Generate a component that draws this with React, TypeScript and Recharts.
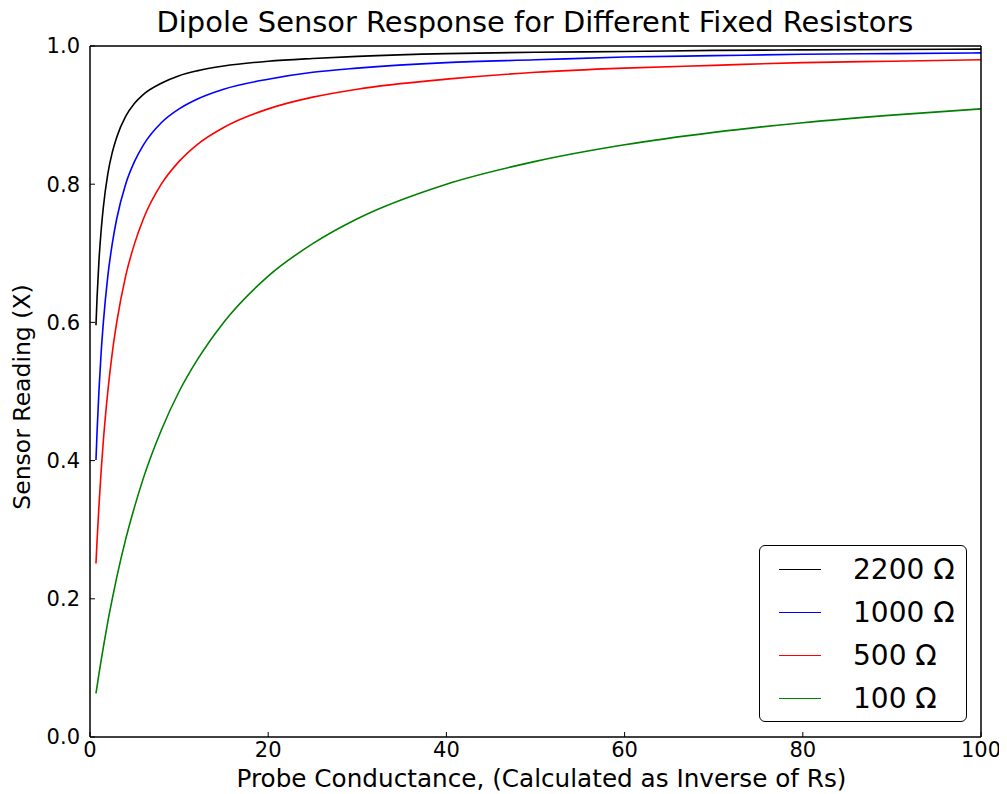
import React from 'react';
import { LineChart, Line, XAxis, YAxis, Legend } from 'recharts';

const conductance = [0.67, 0.8, 1, 1.25, 1.5, 2, 2.5, 3, 4, 5, 6, 8, 10, 12, 15, 20, 25, 30, 40, 50, 60, 70, 80, 90, 100];
const r2200 = [0.596, 0.638, 0.688, 0.733, 0.767, 0.815, 0.846, 0.868, 0.898, 0.917, 0.930, 0.946, 0.957, 0.964, 0.971, 0.978, 0.982, 0.985, 0.989, 0.991, 0.992, 0.9936, 0.9944, 0.995, 0.9955];
const r1000 = [0.401, 0.444, 0.5, 0.556, 0.6, 0.667, 0.714, 0.75, 0.8, 0.833, 0.857, 0.889, 0.909, 0.923, 0.9375, 0.952, 0.962, 0.968, 0.976, 0.980, 0.984, 0.986, 0.988, 0.989, 0.990];
const r500 = [0.251, 0.286, 0.333, 0.385, 0.429, 0.5, 0.556, 0.6, 0.667, 0.714, 0.75, 0.8, 0.833, 0.857, 0.882, 0.909, 0.926, 0.9375, 0.952, 0.962, 0.968, 0.972, 0.976, 0.978, 0.980];
const r100 = [0.063, 0.074, 0.091, 0.111, 0.130, 0.167, 0.2, 0.231, 0.286, 0.333, 0.375, 0.444, 0.5, 0.545, 0.6, 0.667, 0.714, 0.75, 0.8, 0.833, 0.857, 0.875, 0.889, 0.9, 0.909];

const seriesNames = ['2200 Ω', '1000 Ω', '500 Ω', '100 Ω'];
const seriesKeys = ['r2200', 'r1000', 'r500', 'r100'];
const seriesColors = ['#000000', '#0000ff', '#ff0000', '#008000'];
const xTicks = [0, 20, 40, 60, 80, 100];
const yTicks = [0, 0.2, 0.4, 0.6, 0.8, 1.0];

const titleText = 'Dipole Sensor Response for Different Fixed Resistors';
const xLabelText = 'Probe Conductance, (Calculated as Inverse of Rs)';
const yLabelText = 'Sensor Reading (X)';

const data = conductance.map((g, i) => ({
  g,
  r2200: r2200[i],
  r1000: r1000[i],
  r500: r500[i],
  r100: r100[i],
}));

const FONT = '"DejaVu Sans", sans-serif';

const renderYLabel = () => (
  <text x={22} y={397} transform="rotate(-90 22 397)" textAnchor="middle" dominantBaseline="central" fontFamily={FONT} fontSize={23.5} fill="#000">
    {yLabelText}
  </text>
);

const renderXLabel = () => (
  <text x={541.5} y={778} textAnchor="middle" dominantBaseline="central" fontFamily={FONT} fontSize={24.7} fill="#000">
    {xLabelText}
  </text>
);

const renderTitle = () => (
  <text x={535} y={22} textAnchor="middle" dominantBaseline="central" fontFamily={FONT} fontSize={28.9} fill="#000">
    {titleText}
  </text>
);

const LegendBox = () => (
  <div
    style={{
      width: 208,
      height: 177,
      border: '1.5px solid #000',
      borderRadius: 6,
      background: '#fff',
      boxSizing: 'border-box',
      fontFamily: FONT,
      fontSize: 28,
      paddingTop: 2,
    }}
  >
    {seriesNames.map((n, i) => (
      <div key={n} style={{ display: 'flex', alignItems: 'center', height: 43 }}>
        <div style={{ marginLeft: 19, width: 42, height: 0, borderTop: `1.5px solid ${seriesColors[i]}` }} />
        <div style={{ marginLeft: 32, color: '#000', lineHeight: '43px' }}>{n}</div>
      </div>
    ))}
  </div>
);

export default function App() {
  return (
    <div style={{ marginTop: -8, marginLeft: -8, width: 1007, height: 794 }}>
      <LineChart width={1007} height={794} data={data} margin={{ top: 45, right: 25, bottom: 27, left: 0 }}>
        <XAxis
          xAxisId="b"
          dataKey="g"
          type="number"
          domain={[0, 100]}
          ticks={xTicks}
          height={30}
          tickSize={-5}
          tickMargin={10}
          tick={{ fontFamily: FONT, fontSize: 21, fill: '#000' }}
          axisLine={{ stroke: '#000', strokeWidth: 1.5 }}
          tickLine={{ stroke: '#000' }}
          label={renderXLabel}
        />
        <XAxis
          xAxisId="t"
          orientation="top"
          dataKey="g"
          type="number"
          domain={[0, 100]}
          ticks={xTicks}
          height={1}
          tickSize={-5}
          tick={false}
          axisLine={{ stroke: '#000', strokeWidth: 1.5 }}
          tickLine={{ stroke: '#000' }}
          label={renderTitle}
        />
        <YAxis
          yAxisId="l"
          type="number"
          domain={[0, 1]}
          ticks={yTicks}
          width={90}
          tickSize={-5}
          tickMargin={15}
          tickFormatter={(v: number) => v.toFixed(1)}
          tick={{ fontFamily: FONT, fontSize: 21, fill: '#000' }}
          axisLine={{ stroke: '#000', strokeWidth: 1.5 }}
          tickLine={{ stroke: '#000' }}
          label={renderYLabel}
        />
        <YAxis
          yAxisId="r"
          orientation="right"
          type="number"
          domain={[0, 1]}
          ticks={yTicks}
          width={1}
          tickSize={-5}
          tick={false}
          axisLine={{ stroke: '#000', strokeWidth: 1.5 }}
          tickLine={{ stroke: '#000' }}
        />
        {seriesKeys.map((k, i) => (
          <Line
            key={k}
            xAxisId="b"
            yAxisId="l"
            type="monotone"
            dataKey={k}
            name={seriesNames[i]}
            stroke={seriesColors[i]}
            strokeWidth={1.6}
            dot={false}
            activeDot={false}
            isAnimationActive={false}
          />
        ))}
        <Legend
          layout="vertical"
          align="center"
          verticalAlign="middle"
          content={() => <LegendBox />}
          wrapperStyle={{ position: 'absolute', left: 759, top: 545, width: 208, height: 177 }}
        />
      </LineChart>
    </div>
  );
}
